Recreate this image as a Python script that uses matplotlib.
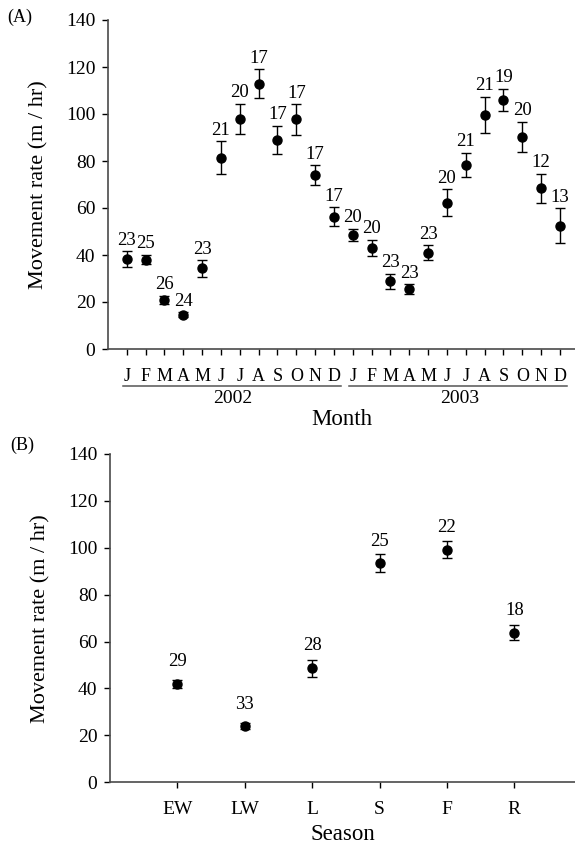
import matplotlib
matplotlib.use("Agg")
import matplotlib.pyplot as plt
import matplotlib.transforms as mtransforms

plt.rcParams["font.family"] = ["Liberation Serif", "DejaVu Serif"]

# Monthly movement rates, Jan 2002 - Dec 2003 (mean, SE, sample size)
months = ["J", "F", "M", "A", "M", "J", "J", "A", "S", "O", "N", "D"] * 2
years = ["2002", "2003"]
month_rate = [38.1, 38.0, 20.9, 14.6, 34.3, 81.4, 97.9, 112.9, 88.9, 97.7, 74.0, 56.3,
              48.6, 43.0, 28.8, 25.4, 41.0, 62.3, 78.4, 99.6, 106.0, 90.2, 68.4, 52.5]
month_se = [3.4, 2.0, 1.7, 1.0, 3.5, 6.9, 6.4, 6.2, 6.0, 6.5, 4.2, 4.0,
            2.6, 3.4, 3.1, 2.2, 3.1, 5.7, 5.0, 7.6, 4.6, 6.4, 6.2, 7.3]
month_n = [23, 25, 26, 24, 23, 21, 20, 17, 17, 17, 17, 17,
           20, 20, 23, 23, 23, 20, 21, 21, 19, 20, 12, 13]

# Seasonal movement rates
seasons = ["EW", "LW", "L", "S", "F", "R"]
season_rate = [41.9, 23.9, 48.7, 93.4, 99.1, 63.8]
season_se = [1.8, 1.2, 3.6, 3.8, 3.6, 3.3]
season_n = [29, 33, 28, 25, 22, 18]

W, H = 575, 846
fig = plt.figure(figsize=(W / 100, H / 100), dpi=100)

axA = fig.add_axes([108 / W, (H - 349) / H, (W - 108) / W, 329 / H])
axB = fig.add_axes([110 / W, (H - 782.3) / H, (W - 110) / W, 328.3 / H])

spine_col = "#4a4a4a"


def style_axes(ax, label_x):
    for side in ["top", "right"]:
        ax.spines[side].set_visible(False)
    for side in ["left", "bottom"]:
        ax.spines[side].set_color(spine_col)
        ax.spines[side].set_linewidth(1.2)
    ax.set_ylim(0, 140)
    ax.set_yticks(range(0, 141, 20))
    ax.tick_params(axis="y", direction="out", length=4, width=1, pad=5,
                   labelsize=14, color="black")
    # y label centred at a fixed pixel column left of the axis
    x0 = ax.get_position().x0 * W
    ax.text((label_x - x0) / (ax.get_position().width * W), 0.5,
            "Movement rate (m / hr)", transform=ax.transAxes, rotation=90,
            ha="center", va="center", fontsize=16)


# ---- (A) monthly ----
xA = list(range(1, len(month_rate) + 1))
axA.errorbar(xA, month_rate, yerr=month_se, fmt="o", color="black",
             markersize=6.5, capsize=3.4, elinewidth=1, capthick=1)
for x, m, s, n in zip(xA, month_rate, month_se, month_n):
    axA.annotate(str(n), (x, m + s), xytext=(0, 8), textcoords="offset points",
                 ha="center", va="center", fontsize=13.5)
style_axes(axA, 38.7)
axA.set_xlim(0, 24.8)
axA.set_xticks(xA)
axA.set_xticklabels(months)
axA.tick_params(axis="x", direction="out", length=4.5, width=1, pad=9,
                labelsize=13)

# year underlines and labels below the month letters
trans = mtransforms.blended_transform_factory(axA.transData, axA.transAxes)
for i, yr in enumerate(years):
    first = 1 + 12 * i
    last = 12 + 12 * i
    axA.plot([first - 0.18, last + 0.4], [-0.112, -0.112], transform=trans,
             color="#555555", lw=1.1, clip_on=False)
    axA.text((first + last) / 2 + 0.15, -0.150, yr, transform=trans,
             ha="center", va="center", fontsize=14)
axA.text(0.5, -0.213, "Month", transform=axA.transAxes, ha="center",
         va="center", fontsize=16.5)
fig.text(20 / W, 1 - 17 / H, "(A)", ha="center", va="center", fontsize=13)

# ---- (B) seasonal ----
xB = list(range(1, len(seasons) + 1))
axB.errorbar(xB, season_rate, yerr=season_se, fmt="o", color="black",
             markersize=6.5, capsize=3.4, elinewidth=1, capthick=1)
for x, m, n in zip(xB, season_rate, season_n):
    axB.annotate(str(n), (x, m), xytext=(0, 16), textcoords="offset points",
                 ha="center", va="center", fontsize=13.5)
style_axes(axB, 40.8)
axB.set_xlim(0, 6.9)
axB.set_xticks(xB)
axB.set_xticklabels(seasons)
axB.tick_params(axis="x", direction="out", length=4.5, width=1, pad=9,
                labelsize=14)
axB.text(0.5, -0.158, "Season", transform=axB.transAxes, ha="center",
         va="center", fontsize=16.5)
fig.text(22 / W, 1 - 445 / H, "(B)", ha="center", va="center", fontsize=13)

fig.savefig("out.png", dpi=100)
